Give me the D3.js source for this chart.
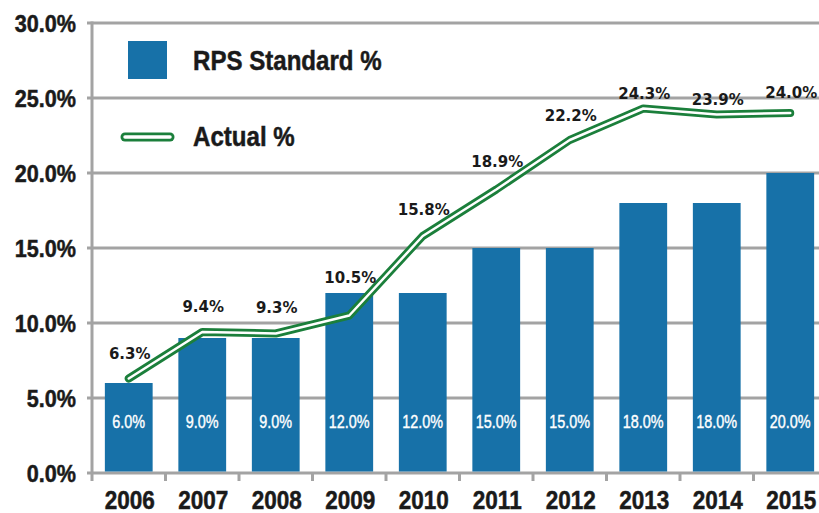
<!DOCTYPE html>
<html>
<head>
<meta charset="utf-8">
<script src="https://cdn.jsdelivr.net/npm/d3@7"></script>
<style>
  body { margin: 0; background: #fff; }
  svg { display: block; }
  .cond { font-family: "Liberation Sans", Arial, sans-serif; }
</style>
</head>
<body>
<div id="chart"></div>
<script>
const BAR_COLOR = "#1771a8";
const LINE_COLOR = "#1b7f3b";
const GRID_COLOR = "#a3a3a3";
const TEXT_COLOR = "#1a1a1a";

const years = ["2006", "2007", "2008", "2009", "2010", "2011", "2012", "2013", "2014", "2015"];
const rpsStandard = [6.0, 9.0, 9.0, 12.0, 12.0, 15.0, 15.0, 18.0, 18.0, 20.0];
const actual = [6.3, 9.4, 9.3, 10.5, 15.8, 18.9, 22.2, 24.3, 23.9, 24.0];
const yTicks = [0, 5, 10, 15, 20, 25, 30];
// how far each "actual" label sits above its point (px)
const actualLabelDy = [20, 20, 21, 33, 21, 23, 19, 10, 10, 15];

let width = 819,
  height = 513;

let x = d3.scaleBand()
  .domain(years)
  .range([92, 827])
  .paddingInner(0.35)
  .paddingOuter(0.175);

let y = d3.scaleLinear().domain([0, 30]).range([473, 23]);

let svg = d3.select("#chart")
  .append("svg")
  .attr("width", width)
  .attr("height", height);

// no condensed font installed -> squeeze Liberation Sans horizontally
function squeeze(px, py, sx) {
  return "translate(" + px + "," + py + ") scale(" + sx + ",1)";
}

// gridlines
svg.append("g")
  .selectAll("line")
  .data(yTicks)
  .join("line")
  .attr("x1", 87)
  .attr("x2", width)
  .attr("y1", d => y(d))
  .attr("y2", d => y(d))
  .attr("stroke", GRID_COLOR)
  .attr("stroke-width", 3);

// y axis line
svg.append("line")
  .attr("x1", 92).attr("x2", 92)
  .attr("y1", y(30) - 1.5).attr("y2", 481)
  .attr("stroke", GRID_COLOR)
  .attr("stroke-width", 3);

// x ticks between bands
let step = x.step();
svg.append("g")
  .selectAll("line")
  .data(years.slice(1))
  .join("line")
  .attr("x1", d => x(d) - (step - x.bandwidth()) / 2)
  .attr("x2", d => x(d) - (step - x.bandwidth()) / 2)
  .attr("y1", 473)
  .attr("y2", 481)
  .attr("stroke", GRID_COLOR)
  .attr("stroke-width", 3);

// y tick labels
svg.append("g")
  .selectAll("text")
  .data(yTicks)
  .join("text")
  .attr("class", "cond")
  .attr("transform", d => squeeze(76, y(d) + 8.5, 0.9))
  .attr("text-anchor", "end")
  .attr("font-size", "24px")
  .attr("font-weight", "bold")
  .attr("fill", TEXT_COLOR)
  .attr("stroke", TEXT_COLOR)
  .attr("stroke-width", 0.5)
  .text(d => d.toFixed(1) + "%");

// x labels
svg.append("g")
  .selectAll("text")
  .data(years)
  .join("text")
  .attr("class", "cond")
  .attr("transform", d => squeeze(x(d) + x.bandwidth() / 2 + 1, 509, 0.9))
  .attr("text-anchor", "middle")
  .attr("font-size", "25px")
  .attr("font-weight", "bold")
  .attr("fill", TEXT_COLOR)
  .attr("stroke", TEXT_COLOR)
  .attr("stroke-width", 0.5)
  .text(d => d);

// bars
svg.append("g")
  .selectAll("rect")
  .data(rpsStandard)
  .join("rect")
  .attr("x", (d, i) => x(years[i]))
  .attr("width", x.bandwidth())
  .attr("y", d => y(d))
  .attr("height", d => y(0) - y(d) - 1.5)
  .attr("fill", BAR_COLOR);

// bar labels
svg.append("g")
  .selectAll("text")
  .data(rpsStandard)
  .join("text")
  .attr("class", "cond")
  .attr("transform", (d, i) => squeeze(x(years[i]) + x.bandwidth() / 2, 428, 0.8))
  .attr("text-anchor", "middle")
  .attr("font-size", "18px")
  .attr("fill", "#fff")
  .attr("stroke", "#fff")
  .attr("stroke-width", 0.4)
  .text(d => d.toFixed(1) + "%");

// actual line (double stroke)
let line = d3.line()
  .x((d, i) => x(years[i]) + x.bandwidth() / 2)
  .y(d => y(d));

svg.append("path")
  .datum(actual)
  .attr("d", line)
  .attr("fill", "none")
  .attr("stroke", LINE_COLOR)
  .attr("stroke-width", 8)
  .attr("stroke-linejoin", "round")
  .attr("stroke-linecap", "round");
svg.append("path")
  .datum(actual)
  .attr("d", line)
  .attr("fill", "none")
  .attr("stroke", "#fff")
  .attr("stroke-width", 2.5)
  .attr("stroke-linejoin", "round")
  .attr("stroke-linecap", "round");

// actual labels
svg.append("g")
  .selectAll("text")
  .data(actual)
  .join("text")
  .attr("x", (d, i) => x(years[i]) + x.bandwidth() / 2 + 1)
  .attr("y", (d, i) => y(d) - actualLabelDy[i])
  .attr("text-anchor", "middle")
  .attr("font-family", "'DejaVu Sans', sans-serif")
  .attr("font-size", "15px")
  .attr("font-weight", "bold")
  .attr("fill", TEXT_COLOR)
  .text(d => d.toFixed(1) + "%");

// legend
let legend = svg.append("g");
legend.append("rect")
  .attr("x", 128).attr("y", 41)
  .attr("width", 39).attr("height", 38)
  .attr("fill", BAR_COLOR);
legend.append("text")
  .attr("class", "cond")
  .attr("transform", squeeze(193, 70, 0.86))
  .attr("font-size", "28px")
  .attr("font-weight", "bold")
  .attr("fill", TEXT_COLOR)
  .attr("stroke", TEXT_COLOR)
  .attr("stroke-width", 0.5)
  .text("RPS Standard %");

legend.append("line")
  .attr("x1", 125).attr("x2", 170)
  .attr("y1", 137).attr("y2", 137)
  .attr("stroke", LINE_COLOR)
  .attr("stroke-width", 9)
  .attr("stroke-linecap", "round");
legend.append("line")
  .attr("x1", 125).attr("x2", 170)
  .attr("y1", 137).attr("y2", 137)
  .attr("stroke", "#fff")
  .attr("stroke-width", 3.5)
  .attr("stroke-linecap", "round");
legend.append("text")
  .attr("class", "cond")
  .attr("transform", squeeze(193, 146, 0.86))
  .attr("font-size", "28px")
  .attr("font-weight", "bold")
  .attr("fill", TEXT_COLOR)
  .attr("stroke", TEXT_COLOR)
  .attr("stroke-width", 0.5)
  .text("Actual %");
</script>
</body>
</html>
